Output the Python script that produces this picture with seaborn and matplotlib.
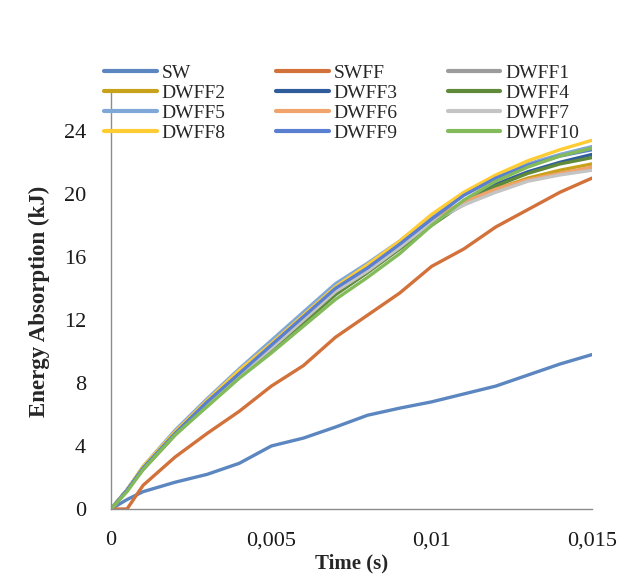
import numpy as np
import pandas as pd
import matplotlib
matplotlib.use("Agg")
import matplotlib.pyplot as plt
import seaborn as sns

time = [0, 0.0005, 0.001, 0.002, 0.003, 0.004, 0.005, 0.006, 0.007, 0.008,
        0.009, 0.010, 0.011, 0.012, 0.013, 0.014, 0.015]

series_names = ["SW", "SWFF", "DWFF1", "DWFF2", "DWFF3", "DWFF4",
                "DWFF5", "DWFF6", "DWFF7", "DWFF8", "DWFF9", "DWFF10"]

SW     = [0, 0.6, 1.1, 1.7, 2.2, 2.9, 4.0, 4.5, 5.2, 5.95, 6.4, 6.8, 7.3, 7.8, 8.5, 9.2, 9.8]
SWFF   = [0, 0.0, 1.5, 3.3, 4.8, 6.2, 7.8, 9.1, 10.9, 12.3, 13.7, 15.4, 16.5, 17.9, 19.0, 20.1, 21.0]
DWFF1  = [0, 1.2, 2.6, 4.8, 6.7, 8.5, 10.2, 12.0, 13.8, 15.1, 16.6, 18.2, 19.3, 20.2, 20.9, 21.3, 21.6]
DWFF2  = [0, 1.2, 2.6, 4.9, 6.8, 8.6, 10.3, 12.1, 13.9, 15.2, 16.7, 18.3, 19.4, 20.3, 21.0, 21.5, 21.9]
DWFF3  = [0, 1.2, 2.6, 4.8, 6.7, 8.5, 10.2, 12.0, 13.8, 15.2, 16.6, 18.1, 19.5, 20.6, 21.4, 22.0, 22.5]
DWFF4  = [0, 1.2, 2.5, 4.7, 6.6, 8.4, 10.1, 11.8, 13.6, 15.0, 16.5, 18.0, 19.4, 20.5, 21.3, 21.9, 22.3]
DWFF5  = [0, 1.2, 2.7, 5.0, 7.0, 8.9, 10.7, 12.5, 14.3, 15.6, 17.0, 18.6, 20.0, 21.0, 21.9, 22.5, 23.0]
DWFF6  = [0, 1.2, 2.6, 4.9, 6.8, 8.6, 10.3, 12.1, 13.9, 15.2, 16.7, 18.4, 19.5, 20.3, 20.9, 21.3, 21.7]
DWFF7  = [0, 1.2, 2.6, 4.8, 6.7, 8.5, 10.2, 12.0, 13.8, 15.1, 16.6, 18.2, 19.3, 20.1, 20.8, 21.2, 21.5]
DWFF8  = [0, 1.2, 2.7, 4.9, 6.9, 8.8, 10.5, 12.3, 14.1, 15.5, 17.0, 18.7, 20.1, 21.2, 22.1, 22.8, 23.4]
DWFF9  = [0, 1.2, 2.6, 4.8, 6.8, 8.6, 10.4, 12.2, 14.0, 15.3, 16.8, 18.4, 19.9, 21.0, 21.8, 22.4, 22.8]
DWFF10 = [0, 1.1, 2.5, 4.7, 6.5, 8.3, 9.9, 11.6, 13.3, 14.7, 16.2, 18.0, 19.6, 20.8, 21.7, 22.4, 22.9]

values = [SW, SWFF, DWFF1, DWFF2, DWFF3, DWFF4, DWFF5, DWFF6, DWFF7, DWFF8, DWFF9, DWFF10]

colors = ["#5b86c0", "#d3713b", "#9c9c9c", "#c9a21c", "#2f5d9c", "#5f8a3a",
          "#7fa8d8", "#f0a36a", "#c4c4c4", "#ffcc33", "#5a7fd0", "#84bb5a"]

xticks = [0, 0.005, 0.01, 0.015]
xtick_labels = ["0", "0,005", "0,01", "0,015"]
yticks = [0, 4, 8, 12, 16, 20, 24]

rows = []
for name, vals in zip(series_names, values):
    for t, v in zip(time, vals):
        rows.append({"Time": t, "Energy": v, "Series": name})
df = pd.DataFrame(rows)

sns.set_style("white")
plt.rcParams["font.family"] = ["Liberation Serif", "DejaVu Serif"]

fig = plt.figure(figsize=(6.41, 5.82), dpi=100)
ax = fig.add_axes([111/641, 1 - 509/582, (592-111)/641, (509-93)/582])

palette = dict(zip(series_names, colors))
sns.lineplot(data=df, x="Time", y="Energy", hue="Series", hue_order=series_names,
             palette=palette, linewidth=2.4, ax=ax, legend=True, sort=False)

handles, labels = ax.get_legend_handles_labels()
ax.get_legend().remove()
for h in handles:
    h.set_linewidth(3)
ncol = 3
nrow = 4
order = [r * ncol + c for c in range(ncol) for r in range(nrow)]
handles = [handles[i] for i in order]
labels = [labels[i] for i in order]
fig.legend(handles, labels, ncol=ncol, frameon=False, loc="upper left",
           bbox_to_anchor=(104/641, 1 - 64/582), fontsize=14,
           handlelength=2.7, handletextpad=0.25, columnspacing=2.6,
           labelspacing=0.13, borderpad=0, borderaxespad=0)

ax.set_xlim(0, 0.015)
ax.set_ylim(0, 26.4)
ax.set_xticks(xticks)
ax.set_xticklabels(xtick_labels)
ax.set_yticks(yticks)

for s in ["top", "right"]:
    ax.spines[s].set_visible(False)
for s in ["left", "bottom"]:
    ax.spines[s].set_color("#8c8c8c")
    ax.spines[s].set_linewidth(1.0)

ax.tick_params(axis="both", direction="out", length=6, width=1, color="#8c8c8c",
               labelsize=16, pad=12, labelcolor="#1a1a1a")
ax.tick_params(axis="x", pad=10)

ax.set_xlabel("Time (s)", fontsize=15, fontweight="bold", labelpad=2)
ax.set_ylabel("Energy Absorption (kJ)", fontsize=16.5, fontweight="bold", labelpad=10)

fig.savefig("out.png", dpi=100, facecolor="white")
